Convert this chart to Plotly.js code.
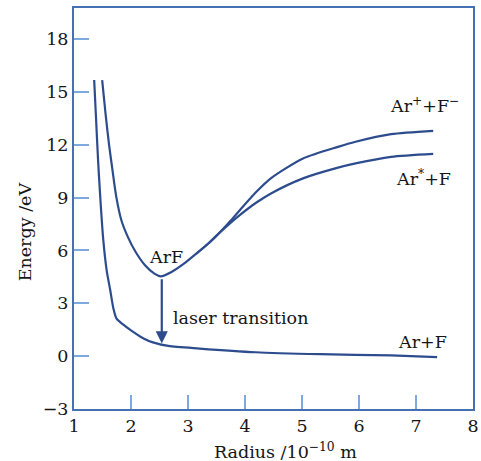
<!DOCTYPE html>
<html>
<head>
<meta charset="utf-8">
<script src="https://cdn.plot.ly/plotly-3.0.1.min.js"></script>
<style>html,body{margin:0;padding:0;background:#fff;}#chart{width:481px;height:461px;}</style>
</head>
<body>
<div id="chart"></div>
<script>
// Ground state Ar+F
var groundX = [1.354,1.388,1.422,1.464,1.514,1.573,1.636,1.691,1.747,1.860,2.000,2.220,2.384,2.656,3.203,4.189,5.319,6.563,7.370];
var groundY = [15.67,13.40,11.13,8.85,6.58,4.87,3.74,2.71,2.13,1.80,1.46,1.00,0.78,0.58,0.43,0.22,0.11,0.04,-0.05];
// ArF well continuing to Ar+ + F-
var ionicX = [1.494,1.556,1.616,1.675,1.742,1.831,1.944,2.082,2.246,2.410,2.520,2.711,2.929,3.147,3.367,3.557,3.751,3.913,4.200,4.464,5.018,5.632,5.940,6.563,7.302];
var ionicY = [15.67,13.68,11.98,10.56,9.04,7.71,6.77,5.91,5.16,4.68,4.53,4.78,5.25,5.82,6.42,7.02,7.70,8.30,9.33,10.12,11.22,11.88,12.17,12.60,12.79];
// Branch to Ar* + F
var excitedX = [3.147,3.367,3.557,3.751,3.913,4.200,4.464,5.018,5.632,5.940,6.563,7.302];
var excitedY = [5.82,6.42,7.02,7.58,8.02,8.72,9.25,10.09,10.70,10.94,11.31,11.48];
var xTicks = [1,2,3,4,5,6,7,8];
var yTicks = [-3,0,3,6,9,12,15,18];

var font = 'DejaVu Serif';
var curveColor = '#2d4c8e';
var lineStyle = {color: curveColor, width: 2.2, shape: 'spline', smoothing: 0.7};

var traces = [
  {x: groundX, y: groundY, mode: 'lines', line: lineStyle, hoverinfo: 'skip'},
  {x: excitedX, y: excitedY, mode: 'lines', line: lineStyle, hoverinfo: 'skip'},
  {x: ionicX, y: ionicY, mode: 'lines', line: lineStyle, hoverinfo: 'skip'}
];

var tf = {family: font, size: 17.5, color: '#151515'};
var layout = {
  width: 481, height: 461,
  margin: {l: 74, r: 8, t: 8, b: 52},
  showlegend: false,
  paper_bgcolor: '#fff', plot_bgcolor: '#fff',
  xaxis: {
    range: [1, 8], tickvals: xTicks, ticks: 'inside', ticklen: 14, tickwidth: 2, tickcolor: '#7ea8e0',
    showline: true, mirror: true, linecolor: '#4570b4', linewidth: 2,
    showgrid: false, zeroline: false, tickfont: tf, fixedrange: true
  },
  yaxis: {
    range: [-3, 19.76], tickvals: yTicks, ticks: 'inside', ticklen: 15, tickwidth: 2, tickcolor: '#7ea8e0',
    showline: true, mirror: true, linecolor: '#4570b4', linewidth: 2,
    showgrid: false, zeroline: false, tickfont: tf, fixedrange: true
  },
  annotations: [
    {xref: 'paper', yref: 'paper', x: -0.123, y: 0.443, text: 'Energy /eV', textangle: -90, showarrow: false, font: tf, xanchor: 'center', yanchor: 'middle'},
    {xref: 'paper', yref: 'paper', x: 0.531, y: -0.105, text: 'Radius /10<sup>−10</sup> m', showarrow: false, font: tf, xanchor: 'center', yanchor: 'middle'},
    {x: 7.15, y: 14.25, text: 'Ar<sup>+</sup>+F<sup>−</sup>', showarrow: false, font: tf},
    {x: 7.13, y: 10.10, text: 'Ar<sup>*</sup>+F', showarrow: false, font: tf},
    {x: 2.62, y: 5.61, text: 'ArF', showarrow: false, font: tf},
    {x: 2.70, y: 2.14, text: 'laser transition', showarrow: false, font: tf, xanchor: 'left'},
    {x: 7.12, y: 0.78, text: 'Ar+F', showarrow: false, font: tf},
    {x: 2.54, y: 0.72, ax: 2.54, ay: 4.45, axref: 'x', ayref: 'y', xref: 'x', yref: 'y', text: '', showarrow: true,
     arrowhead: 2, arrowsize: 1.1, arrowwidth: 2.2, arrowcolor: curveColor}
  ]
};

Plotly.newPlot('chart', traces, layout, {staticPlot: true, displayModeBar: false});
</script>
</body>
</html>
